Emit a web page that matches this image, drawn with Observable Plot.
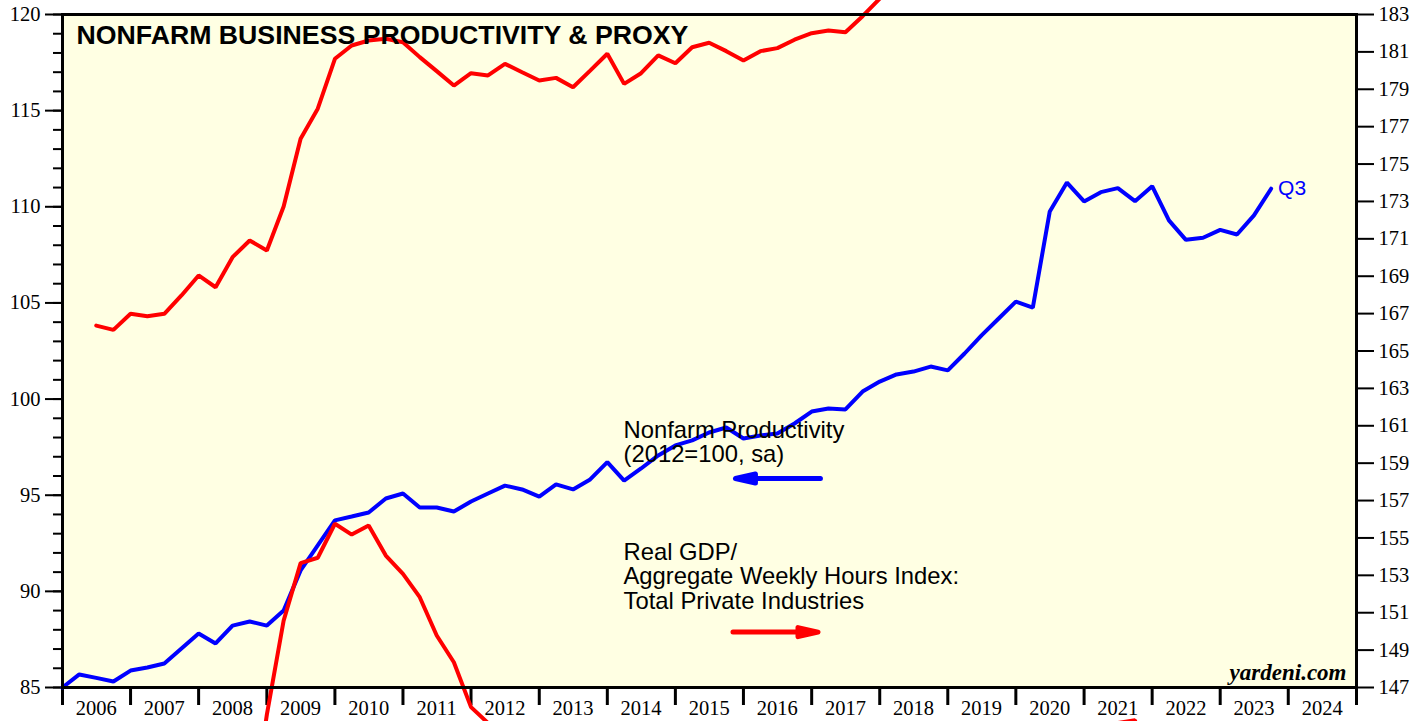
<!DOCTYPE html>
<html><head><meta charset="utf-8">
<script src="https://cdn.jsdelivr.net/npm/d3@7"></script>
<script src="https://cdn.jsdelivr.net/npm/@observablehq/plot@0.6"></script>
<style>html,body{margin:0;padding:0;background:#fff;overflow:hidden} #chart svg{overflow:visible;display:block}</style>
</head><body><div id="chart"></div><script>
// ---------- DATA (quarterly, index 0 = start of 2006 on the time axis) ----------
const startYear = 2006;
const productivity = [85.0, 85.68, 85.5, 85.31, 85.88, 86.04, 86.25, 87.03, 87.81, 87.29, 88.22, 88.43, 88.22, 89.0,
  91.09, 92.39, 93.69, 93.89, 94.10, 94.83, 95.09, 94.36, 94.36, 94.15, 94.67, 95.09, 95.50, 95.30, 94.93, 95.56,
  95.30, 95.82, 96.72, 95.76, 96.39, 97.07, 97.59, 97.85, 98.26, 98.52, 97.95, 98.11, 98.21, 98.73, 99.35, 99.51,
  99.46, 100.39, 100.91, 101.28, 101.43, 101.69, 101.49, 102.37, 103.31, 104.19, 105.07, 104.76,
  109.76, 111.26, 110.28, 110.76, 110.97, 110.29, 111.07, 109.29, 108.28, 108.39, 108.80, 108.56, 109.55, 110.94];
// Real GDP / aggregate weekly hours (right axis), upper trace
const proxyUpperStart = 2;
const proxyUpper = [166.36, 166.13, 166.99, 166.86, 166.99, 167.97, 169.04, 168.41, 170.02, 170.91, 170.38, 172.73,
  176.35, 177.96, 180.63, 181.34, 181.61, 181.70, 181.52, 180.72, 179.97, 179.20, 179.86, 179.74, 180.36, 179.91,
  179.47, 179.61, 179.11, 180.00, 180.90, 179.29, 179.86, 180.81, 180.39, 181.25, 181.49, 181.04, 180.54, 181.04,
  181.20, 181.65, 182.00, 182.14, 182.05, 182.91, 183.85, 184.8];
// lower trace (right axis)
const proxyLowerStart = 11;
const proxyLower = [139.2, 145.55, 150.58, 153.65, 153.94, 155.76, 155.18, 155.67, 154.06, 153.08, 151.83, 149.78,
  148.35, 145.95, 145.1, 143.5];
const proxyBlipStart = 61;
const proxyBlip = [141.0, 145.1, 145.25, 141.0];

const yearTicks = d3.range(2006, 2026);
const leftMajorTicks = d3.range(85, 121, 5);
const leftMinorTicks = d3.range(85, 121, 1);
const rightTicks = d3.range(147, 184, 2);
const lastLabel = "Q3";
const titleText = "NONFARM BUSINESS PRODUCTIVITY & PROXY";
const legendBlue = "Nonfarm Productivity\n(2012=100, sa)";
const legendRed = "Real GDP/\nAggregate Weekly Hours Index:\nTotal Private Industries";
const creditText = "yardeni.com";

// ---------- helpers ----------
const qDate = i => new Date(Date.UTC(startYear, 3 * i, 1));
const r2l = d3.scaleLinear([147, 183], [85, 120]);
const l2r = r2l.invert;

const blueRows = productivity.map((v, i) => ({date: qDate(i), value: v}));
const redRows = [
  ...proxyUpper.map((v, i) => ({date: qDate(proxyUpperStart + i), value: r2l(v), s: "upper"})),
  ...proxyLower.map((v, i) => ({date: qDate(proxyLowerStart + i), value: r2l(v), s: "lower"})),
  ...proxyBlip.map((v, i) => ({date: qDate(proxyBlipStart + i), value: r2l(v), s: "blip"}))
];

const BLUE = "#0000ff", RED = "#ff0000", BG = "#ffffe3";
const serif = "Liberation Serif, Times New Roman, serif";
const sans = "Liberation Sans, Arial, Helvetica, sans-serif";

// arrow annotation anchors (time, left-axis value)
const blueArrow = [{date: new Date(Date.UTC(2017, 1, 17)), value: 95.87}];
const redArrow = [{date: new Date(Date.UTC(2015, 10, 6)), value: 87.88}];
const arrowShape = {
  draw(context, l) {
    const hl = 20, hw = 4.5;
    context.moveTo(0, 0);
    context.lineTo(0, -l + hl);
    context.moveTo(-hw, -l + hl);
    context.lineTo(0, -l);
    context.lineTo(hw, -l + hl);
    context.closePath();
  }
};

const chart = Plot.plot({
  width: 1427,
  height: 721,
  marginLeft: 62,
  marginRight: 71,
  marginTop: 14,
  marginBottom: 34,
  style: {background: "white", overflow: "visible", color: "black"},
  x: {type: "utc", domain: [new Date(Date.UTC(2006, 0, 1)), new Date(Date.UTC(2025, 0, 1))], label: null},
  y: {domain: [85, 120], label: null},
  marks: [
    Plot.frame({fill: BG}),
    Plot.axisY({ticks: leftMinorTicks, tickSize: 9, tickFormat: () => "", strokeWidth: 2, label: null}),
    Plot.axisY({ticks: leftMajorTicks, tickSize: 17, tickPadding: 5, strokeWidth: 2, label: null,
      fontSize: 20.5, fontFamily: serif}),
    Plot.axisY({anchor: "right", ticks: rightTicks.map(r2l), tickFormat: d => String(Math.round(l2r(d))),
      tickSize: 17, tickPadding: 5, strokeWidth: 2, label: null, fontSize: 20.5, fontFamily: serif}),
    Plot.axisX({ticks: yearTicks.map(y => new Date(Date.UTC(y, 0, 1))), tickSize: 18, tickFormat: () => "",
      strokeWidth: 3, label: null}),
    Plot.axisX({ticks: yearTicks.slice(0, -1).map(y => new Date(Date.UTC(y, 6, 1))), tickSize: 0, tickPadding: 13,
      tickFormat: d3.utcFormat("%Y"), label: null, fontSize: 20.5, fontFamily: serif}),
    Plot.lineY(blueRows, {x: "date", y: "value", stroke: BLUE, strokeWidth: 4, strokeLinejoin: "miter"}),
    Plot.lineY(redRows, {x: "date", y: "value", z: "s", stroke: RED, strokeWidth: 4, strokeLinejoin: "miter"}),
    Plot.frame({stroke: "black", strokeWidth: 3}),
    Plot.text(blueRows.slice(-1), {x: "date", y: "value", text: () => lastLabel, dx: 7, textAnchor: "start",
      fill: BLUE, fontSize: 21, fontFamily: sans}),
    Plot.text([titleText], {frameAnchor: "top-left", text: d => d, dx: 14, dy: 11, lineAnchor: "top",
      textAnchor: "start", fontSize: 26.7, fontWeight: "bold", fontFamily: sans, fill: "black"}),
    Plot.text([legendBlue], {frameAnchor: "top-left", text: d => d, dx: 561, dy: 406, lineAnchor: "top",
      textAnchor: "start", fontSize: 23.8, lineHeight: 1.025, fontFamily: sans, fill: "black"}),
    Plot.text([legendRed], {frameAnchor: "top-left", text: d => d, dx: 561, dy: 528, lineAnchor: "top",
      textAnchor: "start", fontSize: 23.8, lineHeight: 1.025, fontFamily: sans, fill: "black"}),
    Plot.vector(blueArrow, {x: "date", y: "value", length: 85, rotate: -90, anchor: "start", shape: arrowShape,
      stroke: BLUE, fill: BLUE, strokeWidth: 5, strokeLinecap: "round", strokeLinejoin: "round"}),
    Plot.vector(redArrow, {x: "date", y: "value", length: 85, rotate: 90, anchor: "start", shape: arrowShape,
      stroke: RED, fill: RED, strokeWidth: 5, strokeLinecap: "round", strokeLinejoin: "round"}),
    Plot.text([creditText], {frameAnchor: "bottom-right", text: d => d, dx: -10, dy: -8, lineAnchor: "bottom",
      textAnchor: "end", fontSize: 23, fontWeight: "bold", fontStyle: "italic", fontFamily: serif, fill: "black"})
  ]
});
document.getElementById("chart").appendChild(chart);
</script></body></html>
